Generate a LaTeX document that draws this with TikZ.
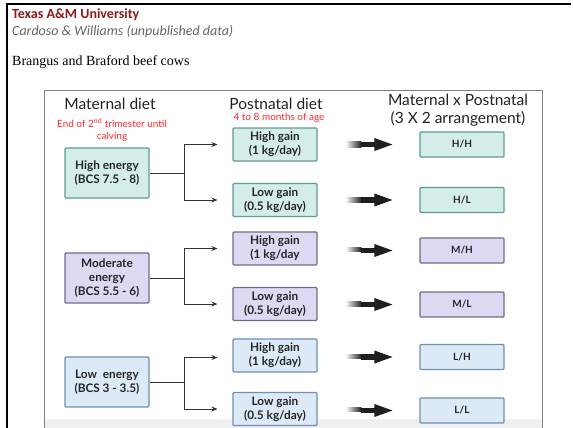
\documentclass[tikz,border=0pt]{standalone}
\usepackage{fontspec}
\setmainfont{Lato}
\newfontfamily\carlito{Carlito}
\newfontfamily\tnr{Liberation Serif}
\usetikzlibrary{arrows.meta}
\definecolor{tealf}{HTML}{D5EDEA}
\definecolor{teald}{HTML}{5E9C93}
\definecolor{purf}{HTML}{DCD9F3}
\definecolor{purd}{HTML}{6E6C8C}
\definecolor{bluf}{HTML}{DCEAF8}
\definecolor{blud}{HTML}{6F90AE}
\definecolor{maroon}{HTML}{8B1A1A}
\definecolor{redt}{HTML}{FF2A2A}
\definecolor{hdr}{HTML}{222222}
\tikzset{
  box/.style={draw, line width=1.1pt, rounded corners=1pt, align=center, text=black!85, font=\bfseries\fontsize{11.8}{14}\selectfont, inner sep=1pt},
  matbox/.style={box, minimum width=84pt, minimum height=50pt},
  pnbox/.style={box, minimum width=84pt, minimum height=33pt},
  resbox/.style={box, minimum width=84pt, minimum height=25pt, font=\bfseries\fontsize{10}{12}\selectfont},
  teal/.style={fill=tealf, draw=teald},
  pur/.style={fill=purf, draw=purd},
  blu/.style={fill=bluf, draw=blud},
  conn/.style={draw=black!80, line width=0.9pt},
  connarr/.style={conn, -{Stealth[length=6pt,width=5pt]}, shorten >=15pt},
  hdrtext/.style={text=hdr, font=\fontsize{15.5}{17}\selectfont, inner sep=0pt},
  redtext/.style={text=redt, font=\fontsize{10}{12}\selectfont, inner sep=0pt, align=center}
}
\newcommand{\fatarrow}[2]{%
  \shade[left color=white, right color=black!88] ([xshift=28pt,yshift=-2.6pt]#1.east) rectangle ([xshift=-58pt,yshift=2.6pt]#2.west);
  \fill[black!88] ([xshift=-58.5pt,yshift=-2.6pt]#2.west) rectangle ([xshift=-44pt,yshift=2.6pt]#2.west);
  \fill[black!88] ([xshift=-45pt,yshift=-6.5pt]#2.west) -- ([xshift=-27pt]#2.west) -- ([xshift=-45pt,yshift=6.5pt]#2.west) -- cycle;
}
\begin{document}
\begin{tikzpicture}[x=1pt,y=-1pt]
\useasboundingbox (0,0) rectangle (573,428);
% outer frame
\fill[white] (0,0) rectangle (573,428);
\fill[black!6] (44,419) rectangle (542,428);
\draw[line width=2.6pt] (7,428) -- (7,4) -- (571,4);
\draw[black!50, line width=1pt] (44,428) -- (44,90.5) -- (542,90.5) -- (542,428);
% header text
\node[anchor=base west, inner sep=0pt, text=maroon, font=\carlito\bfseries\fontsize{14}{16}\selectfont] (t1) at (12,19) {Texas A\&M University};
\node[anchor=base west, inner sep=0pt, text=black!60, font=\carlito\itshape\fontsize{14}{16}\selectfont] (t2) at (12,36) {Cardoso \& Williams (unpublished data)};
\node[anchor=base west, inner sep=0pt, font=\tnr\fontsize{14}{16}\selectfont] (t3) at (12,66) {Brangus and Braford beef cows};
% column headers
\node[hdrtext, anchor=base] (h1) at (110,109) {Maternal diet};
\node[redtext, anchor=base] (r1a) at (112,127) {End of 2\textsuperscript{nd} trimester until};
\node[redtext, anchor=base] (r1b) at (112,139) {calving};
\node[hdrtext, anchor=base] (h2) at (276,109) {Postnatal diet};
\node[redtext, anchor=base] (r2) at (279,121) {4 to 8 months of age};
\node[hdrtext, anchor=base] (h3a) at (458,105) {Maternal x Postnatal};
\node[hdrtext, anchor=base] (h3b) at (458,123) {(3 X 2 arrangement)};
% maternal boxes
\node[matbox, teal] (m1) at (107,173) {High energy\\(BCS 7.5 - 8)};
\node[matbox, pur] (m2) at (107,278) {Moderate\\energy\\(BCS 5.5 - 6)};
\node[matbox, blu] (m3) at (107,382) {Low \ energy\\(BCS 3 - 3.5)};
% postnatal boxes
\node[pnbox, teal] (p1) at (275,144.5) {High gain\\(1 kg/day)};
\node[pnbox, teal] (p2) at (275,200) {Low gain\\(0.5 kg/day)};
\node[pnbox, pur] (p3) at (275,248.5) {High gain\\(1 kg/day};
\node[pnbox, pur] (p4) at (275,304) {Low gain\\(0.5 kg/day)};
\node[pnbox, blu] (p5) at (275,355.5) {High gain\\(1 kg/day)};
\node[pnbox, blu] (p6) at (275,409) {Low gain\\(0.5 kg/day)};
% result boxes
\node[resbox, teal] (q1) at (462,144.5) {H/H};
\node[resbox, teal] (q2) at (462,200) {H/L};
\node[resbox, pur] (q3) at (462,250.5) {M/H};
\node[resbox, pur] (q4) at (462,304.5) {M/L};
\node[resbox, blu] (q5) at (462,357) {L/H};
\node[resbox, blu] (q6) at (462,410.5) {L/L};
% branch connectors
\coordinate (j1) at (184,173);
\coordinate (j2) at (184,278);
\coordinate (j3) at (184,382);
\draw[conn] (m1.east) -- (j1);
\draw[connarr] (j1) |- (p1.west);
\draw[connarr] (j1) |- (p2.west);
\draw[conn] (m2.east) -- (j2);
\draw[connarr] (j2) |- (p3.west);
\draw[connarr] (j2) |- (p4.west);
\draw[conn] (m3.east) -- (j3);
\draw[connarr] (j3) |- ([yshift=-2pt]p5.west);
\draw[connarr] (j3) |- (p6.west);
% thick arrows
\fatarrow{p1}{q1}
\fatarrow{p2}{q2}
\fatarrow{p3}{q3}
\fatarrow{p4}{q4}
\fatarrow{p5}{q5}
\fatarrow{p6}{q6}
\end{tikzpicture}
\end{document}
